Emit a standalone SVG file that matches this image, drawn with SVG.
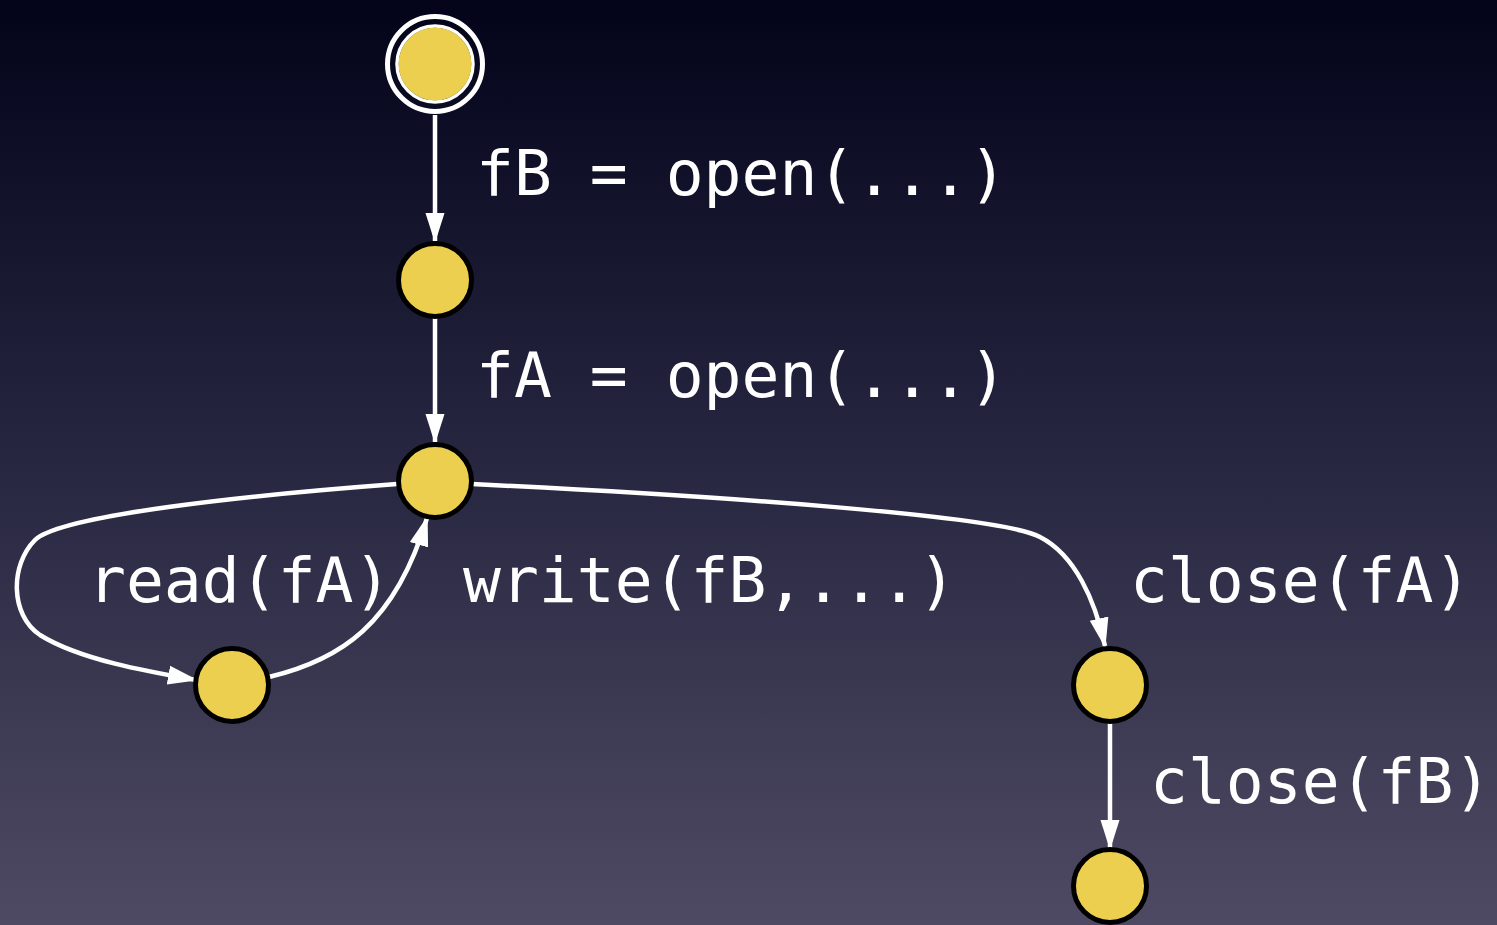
<svg xmlns="http://www.w3.org/2000/svg" width="1497" height="925" viewBox="0 0 1497 925">
  <defs>
    <linearGradient id="bg" x1="0" y1="0" x2="0" y2="1">
      <stop offset="0" stop-color="#03031a"/>
      <stop offset="0.45" stop-color="#23233d"/>
      <stop offset="1" stop-color="#4f4a63"/>
    </linearGradient>
    <marker id="arrow" markerUnits="userSpaceOnUse" markerWidth="34" markerHeight="24" viewBox="0 0 34 24" refX="28" refY="12" orient="auto">
      <polygon points="0,2.5 30,12 0,21.5" fill="#ffffff"/>
    </marker>
    <style>
      .state { fill: #edcf50; stroke: #000000; stroke-width: 5; }
      .start { fill: #edcf50; stroke: none; }
      .ring { fill: none; stroke: #ffffff; }
      .edge { fill: none; stroke: #ffffff; stroke-width: 4.5; marker-end: url(#arrow); }
      .label { font-family: "DejaVu Sans Mono", "Liberation Mono", monospace; font-size: 63px; fill: #ffffff; }
    </style>
  </defs>

  <rect x="0" y="0" width="1497" height="925" fill="url(#bg)"/>

  <g id="connectors">
    <path class="edge" d="M435 115 L435 241"/>
    <path class="edge" d="M435 318 L435 442"/>
    <path class="edge" d="M397 484 C250 495 60 515 35 540 C10 565 10 615 40 635 C80 660 150 672 196 680"/>
    <path class="edge" d="M269 677 C340 660 395 625 427 518"/>
    <path class="edge" d="M472 484 C700 495 1000 515 1040 537 C1075 555 1095 600 1105 646"/>
    <path class="edge" d="M1110 723 L1110 848"/>
  </g>

  <g id="edge-labels">
    <text class="label" x="476" y="195">fB = open(...)</text>
    <text class="label" x="476" y="397">fA = open(...)</text>
    <text class="label" x="88" y="602">read(fA)</text>
    <text class="label" x="463" y="602">write(fB,...)</text>
    <text class="label" x="1130" y="602">close(fA)</text>
    <text class="label" x="1150" y="803">close(fB)</text>
  </g>

  <g id="start">
    <circle class="ring" cx="435" cy="64" r="47.5" stroke-width="5"/>
    <circle class="ring" cx="435" cy="64" r="38" stroke-width="3.5"/>
    <circle class="start" cx="435" cy="64" r="36.5"/>
  </g>
  <g id="s1"><circle class="state" cx="435" cy="280" r="36.5"/></g>
  <g id="s2"><circle class="state" cx="435" cy="481" r="36.5"/></g>
  <g id="s3"><circle class="state" cx="232" cy="685" r="36.5"/></g>
  <g id="s4"><circle class="state" cx="1110" cy="685" r="36.5"/></g>
  <g id="s5"><circle class="state" cx="1110" cy="886" r="36.5"/></g>
</svg>
